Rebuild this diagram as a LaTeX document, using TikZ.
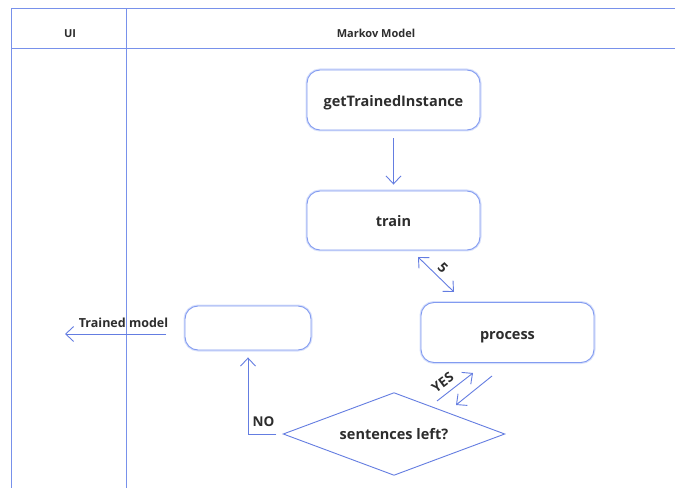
\documentclass[tikz,border=0pt]{standalone}
\usepackage{fontspec}
\setmainfont{Open Sans}
\usetikzlibrary{arrows.meta,calc}
\definecolor{lane}{RGB}{120,145,235}
\definecolor{edge}{RGB}{100,125,225}
\definecolor{boxc}{RGB}{130,155,240}
\definecolor{glow}{RGB}{215,224,252}
\definecolor{txt}{RGB}{45,45,45}
\tikzset{
  box/.style={draw=boxc, line width=0.9pt, rounded corners=13pt, fill=white,
    preaction={draw=glow, line width=3pt},
    text=txt, font=\fontsize{14.5}{17}\selectfont\bfseries, inner sep=0pt,
    text height=13pt, text depth=0pt},
  diatext/.style={inner sep=0pt, text=txt,
    font=\fontsize{14.5}{17}\selectfont\bfseries},
  diaedge/.style={draw=edge, line width=0.9pt},
  conn/.style={draw=edge, line width=0.9pt, -{Straight Barb[length=8pt,width=15pt]}},
  bconn/.style={draw=edge, line width=0.9pt, {Straight Barb[length=8pt,width=15pt]}-{Straight Barb[length=8pt,width=15pt]}},
  lbl/.style={text=txt, font=\fontsize{13.5}{16}\selectfont\bfseries, inner sep=0pt},
  hdr/.style={text=txt, font=\fontsize{11}{13}\selectfont\bfseries, inner sep=0pt},
  lanel/.style={draw=lane, line width=1pt}
}
\begin{document}
\begin{tikzpicture}[x=1pt,y=-1pt]
\useasboundingbox[fill=white] (0,0) rectangle (675,489);
% swimlanes
\draw[lanel] (11.5,9) -- (11.5,488);
\draw[lanel] (11,9) -- (675,9);
\draw[lanel] (11,49) -- (675,49);
\draw[lanel] (126,9) -- (126,488);
\node[hdr] (hui) at (70,33.5) {UI};
\node[hdr] (hmm) at (376,33.5) {Markov Model};
% nodes
\node[box, minimum width=173pt, minimum height=60pt] (gti) at (393.5,100) {getTrainedInstance};
\node[box, minimum width=173pt, minimum height=59pt] (train) at (393.5,220.5) {train};
\node[box, minimum width=173pt, minimum height=60pt] (proc) at (507.5,332.5) {process};
\node[box, minimum width=126pt, minimum height=44pt] (blank) at (248,328) {};
\node[diatext, minimum width=221pt, minimum height=82pt] (sent) at (394,434) {sentences left?};
\draw[diaedge] (sent.west) -- (sent.north) -- (sent.east) -- (sent.south) -- cycle;
% connectors
\draw[conn, shorten <=8pt, shorten >=6pt] (gti) -- (train);
\coordinate (f1) at (418,257);
\coordinate (f2) at (454,292);
\draw[bconn] (f1) -- (f2);
\node[lbl, rotate=-45] (five) at (443,268) {5};
\coordinate (y1) at (437,401);
\coordinate (y2) at (473,373);
\coordinate (y3) at (492,376);
\coordinate (y4) at (456,405);
\draw[conn] (y1) -- (y2);
\draw[conn] (y3) -- (y4);
\node[lbl, rotate=37] (yes) at (442.5,382.5) {YES};
\draw[conn, shorten <=7pt, shorten >=7pt] (sent.west) -| (blank.south);
\node[lbl] (no) at (263.5,422) {NO};
\coordinate (t1) at (166,334);
\coordinate (t2) at (65,334);
\draw[conn] (t1) -- (t2);
\node[lbl, font=\fontsize{12.5}{15}\selectfont\bfseries] (tm) at (123.5,323) {Trained model};
\end{tikzpicture}
\end{document}
